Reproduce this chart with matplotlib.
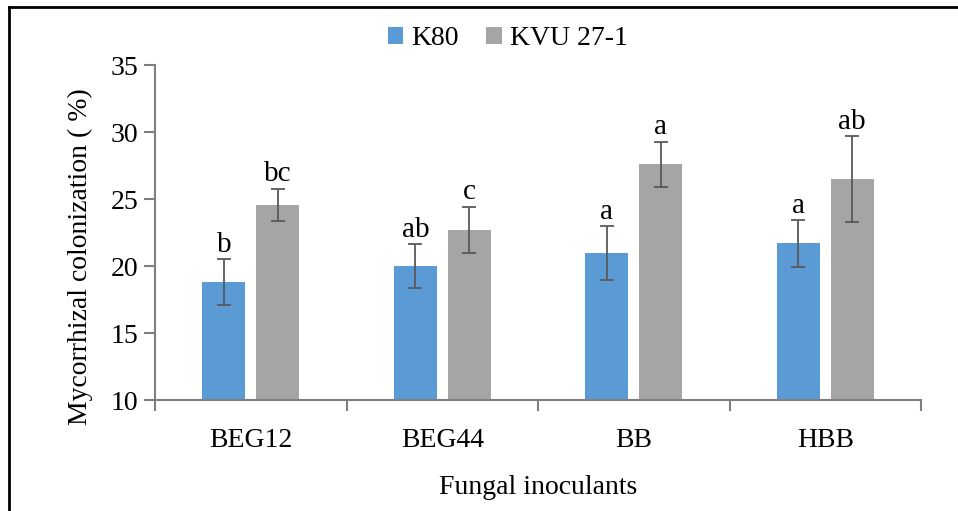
import numpy as np
import matplotlib.pyplot as plt
from matplotlib.lines import Line2D

plt.rcParams['font.family'] = ['Liberation Serif', 'DejaVu Serif']

categories = ['BEG12', 'BEG44', 'BB', 'HBB']
k80 = [18.8, 20.0, 21.0, 21.7]
k80_err = [1.7, 1.65, 2.0, 1.75]
kvu = [24.6, 22.7, 27.6, 26.5]
kvu_err = [1.2, 1.75, 1.7, 3.2]
k80_letters = ['b', 'ab', 'a', 'a']
kvu_letters = ['bc', 'c', 'a', 'ab']

blue = '#5B9BD5'
gray = '#A5A5A5'
axis_col = '#7F7F7F'
err_col = '#595959'

fig = plt.figure(figsize=(9.58, 5.11), dpi=100)
ax = fig.add_axes([0.1618, 0.2172, 0.7996, 0.6548])

x = np.arange(len(categories))
w = 0.225
off = 0.14
ax.bar(x - off, k80, w, color=blue, label='K80', zorder=2)
ax.bar(x + off, kvu, w, color=gray, label='KVU 27-1', zorder=2)
ax.errorbar(x - off, k80, yerr=k80_err, fmt='none', ecolor=err_col,
            elinewidth=1.3, capsize=5, capthick=1.3, zorder=3)
ax.errorbar(x + off, kvu, yerr=kvu_err, fmt='none', ecolor=err_col,
            elinewidth=1.3, capsize=5, capthick=1.3, zorder=3)

for i in range(len(categories)):
    ax.text(x[i] - off, k80[i] + k80_err[i] + 0.1, k80_letters[i],
            ha='center', va='bottom', fontsize=21)
    ax.text(x[i] + off, kvu[i] + kvu_err[i] + 0.1, kvu_letters[i],
            ha='center', va='bottom', fontsize=21)

ax.set_xlim(-0.5, len(categories) - 0.5)
ax.set_ylim(10, 35)
ax.set_yticks(range(10, 36, 5))
ax.set_xticks(x)
ax.set_xticklabels(categories, fontsize=20)
ax.set_xticks(np.arange(-0.5, len(categories), 1), minor=True)
ax.tick_params(axis='x', which='major', length=0, pad=20)
ax.tick_params(axis='x', which='minor', length=8, width=1.5, color=axis_col, direction='out')
ax.tick_params(axis='y', length=8, width=1.5, color=axis_col, labelsize=20, pad=4)

for s in ['top', 'right']:
    ax.spines[s].set_visible(False)
for s in ['left', 'bottom']:
    ax.spines[s].set_color(axis_col)
    ax.spines[s].set_linewidth(1.5)

ax.set_xlabel('Fungal inoculants', fontsize=20, labelpad=16)
ax.set_ylabel('Mycorrhizal colonization ( %)', fontsize=20)
ax.yaxis.set_label_coords(-0.081, 0.43)

fig.legend(loc='center', bbox_to_anchor=(0.53, 0.924), ncol=2, frameon=False,
           fontsize=20, handlelength=0.55, handleheight=0.55, handletextpad=0.3,
           columnspacing=1.0)

# outer frame (left and top only)
fig.add_artist(Line2D([8.5 / 958, 8.5 / 958], [0, 1 - 7.5 / 511], color='black',
                      lw=2, transform=fig.transFigure))
fig.add_artist(Line2D([8.5 / 958, 1], [1 - 7.5 / 511, 1 - 7.5 / 511], color='black',
                      lw=2, transform=fig.transFigure))

fig.savefig('out.png', dpi=100)
